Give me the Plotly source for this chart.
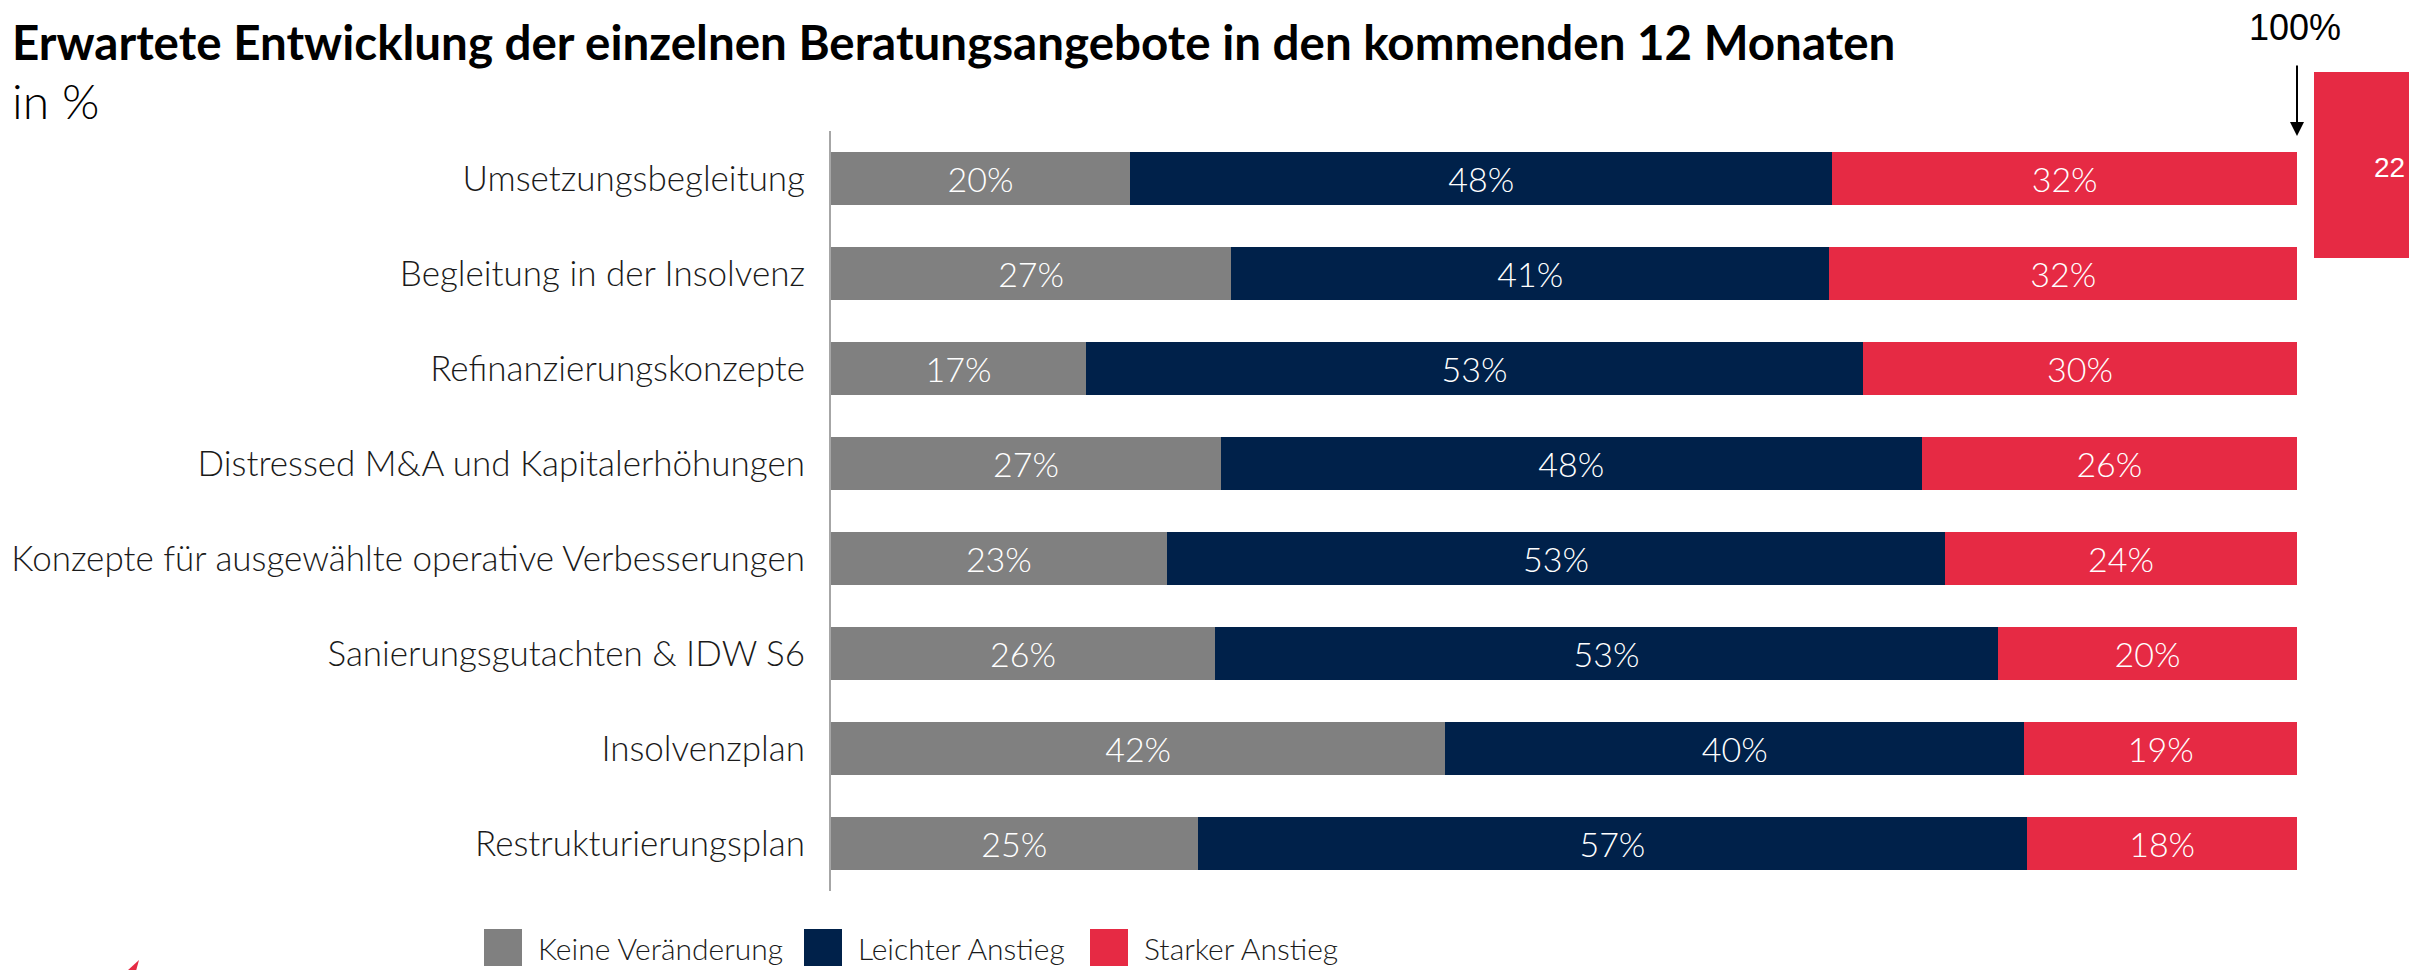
import plotly.graph_objects as go

categories = [
    "Umsetzungsbegleitung",
    "Begleitung in der Insolvenz",
    "Refinanzierungskonzepte",
    "Distressed M&A und Kapitalerhöhungen",
    "Konzepte für ausgewählte operative Verbesserungen",
    "Sanierungsgutachten & IDW S6",
    "Insolvenzplan",
    "Restrukturierungsplan",
]
keine = [20.4, 27.3, 17.4, 26.6, 22.9, 26.2, 41.9, 25.0]
leicht = [47.9, 40.8, 53.0, 47.8, 53.1, 53.4, 39.5, 56.6]
stark = [31.7, 31.9, 29.6, 25.6, 24.0, 20.4, 18.6, 18.4]
keine_labels = ["20%", "27%", "17%", "27%", "23%", "26%", "42%", "25%"]
leicht_labels = ["48%", "41%", "53%", "48%", "53%", "53%", "40%", "57%"]
stark_labels = ["32%", "32%", "30%", "26%", "24%", "20%", "19%", "18%"]
series_names = ["Keine Veränderung", "Leichter Anstieg", "Starker Anstieg"]
colors = ["#808080", "#00214A", "#E62A44"]

OFF = 8  # default page body margin
W, H = 2417 - OFF, 970 - OFF
PLOT_L, PLOT_R, PLOT_T, PLOT_B = 831, 2297, 131, 891  # page pixel coords
ML, MR = PLOT_L - OFF, 2417 - PLOT_R
MT, MB = PLOT_T - OFF, (970 - PLOT_B)
PW, PH = PLOT_R - PLOT_L, PLOT_B - PLOT_T

def px(x):
    return (x - PLOT_L) / PW

def py(y):
    return (PLOT_B - y) / PH

FONT = "Lato"
fig = go.Figure()
for name, vals, labels, col in zip(series_names, [keine, leicht, stark],
                                   [keine_labels, leicht_labels, stark_labels], colors):
    fig.add_trace(go.Bar(
        y=categories, x=vals, name=name, orientation="h",
        marker=dict(color=col, line=dict(width=0)),
        text=labels, textposition="inside", insidetextanchor="middle",
        textangle=0, constraintext="none",
        textfont=dict(family=FONT, size=34, color="white", weight=300),
        showlegend=False, hoverinfo="skip",
    ))

fig.update_layout(
    width=W, height=H,
    barmode="stack", bargap=0.44,
    margin=dict(l=ML, r=MR, t=MT, b=MB, autoexpand=False),
    plot_bgcolor="white", paper_bgcolor="white",
    title=dict(text="<b>Erwartete Entwicklung der einzelnen Beratungsangebote in den kommenden 12 Monaten</b>",
               x=(12 - OFF) / W, xanchor="left", xref="container",
               y=1 - (43 - OFF) / H, yanchor="middle", yref="container",
               font=dict(family=FONT, size=47.5, color="black")),
    xaxis=dict(range=[0, 100], visible=False, fixedrange=True, automargin=False),
    yaxis=dict(categoryorder="array", categoryarray=categories, autorange="reversed",
               showline=True, linecolor="#A6A6A6", linewidth=2, ticks="",
               showgrid=False, ticklabelstandoff=17, automargin=False,
               tickfont=dict(family=FONT, size=35, color="#1A1A1A", weight=300)),
    font=dict(family=FONT),
)

# subtitle
fig.add_annotation(text="in %", xref="paper", yref="paper", x=px(10), y=py(100),
                   xanchor="left", yanchor="middle", showarrow=False,
                   font=dict(family=FONT, size=48, color="black", weight=300))

# 100% marker
fig.add_annotation(text="100%", xref="paper", yref="paper", x=px(2295), y=py(27),
                   xanchor="center", yanchor="middle", showarrow=False,
                   font=dict(family="Liberation Sans", size=36, color="black"))
fig.add_annotation(text="", xref="x", yref="paper", x=100, y=py(136),
                   ax=0, ay=-72, showarrow=True, arrowhead=2, arrowsize=1.4,
                   arrowwidth=2, arrowcolor="black")

# page number box
fig.add_shape(type="rect", xref="paper", yref="paper",
              x0=px(2314), x1=px(2430), y0=py(258), y1=py(72),
              fillcolor="#E62A44", line=dict(width=0))
fig.add_annotation(text="22", xref="paper", yref="paper", x=px(2389), y=py(167),
                   xanchor="center", yanchor="middle", showarrow=False,
                   font=dict(family="Liberation Sans", size=28, color="white"))

# small red mark bottom-left
fig.add_shape(type="path", xref="paper", yref="paper",
              path=f"M {px(127)},{py(971)} L {px(139)},{py(960)} L {px(136)},{py(971)} Z",
              fillcolor="#E62A44", line=dict(width=0))

# custom legend
leg_sq_x = [484, 804, 1090]
for name, col, sx in zip(series_names, colors, leg_sq_x):
    fig.add_shape(type="rect", xref="paper", yref="paper",
                  x0=px(sx), x1=px(sx + 38), y0=py(966), y1=py(929),
                  fillcolor=col, line=dict(width=0))
    fig.add_annotation(text=name, xref="paper", yref="paper", x=px(sx + 52), y=py(948),
                       xanchor="left", yanchor="middle", showarrow=False,
                       font=dict(family=FONT, size=30, color="#1A1A1A", weight=300))

fig.write_html("out.html")
